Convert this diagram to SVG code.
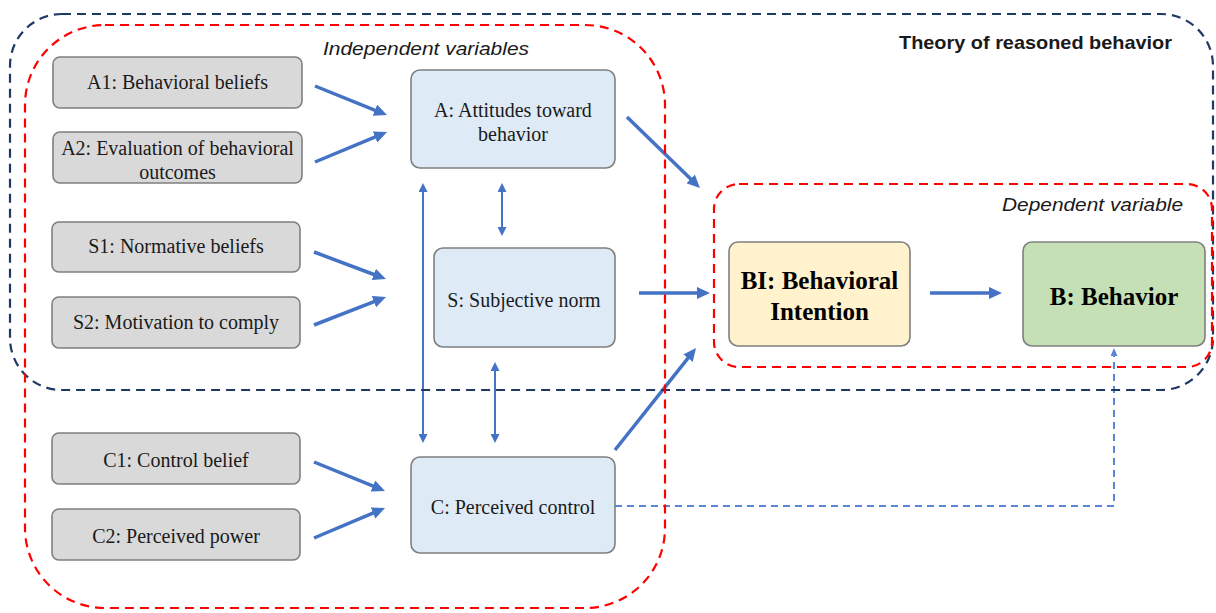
<svg xmlns="http://www.w3.org/2000/svg" width="1216" height="613" viewBox="0 0 1216 613">
  <style>
    .box rect { stroke: #7f7f7f; stroke-width: 1.6; }
    .belief rect { fill: #d9d9d9; }
    .factor rect { fill: #deebf7; }
    .label { font-family: "Liberation Serif", "Times New Roman", serif; font-size: 20px; fill: #1a1a1a; text-anchor: middle; }
    .big { font-family: "Liberation Serif", "Times New Roman", serif; font-size: 25px; font-weight: bold; fill: #000; text-anchor: middle; }
    .cap { font-family: "Liberation Sans", Arial, sans-serif; font-size: 19px; fill: #1a1a1a; }
    .thick { stroke: #4472c4; stroke-width: 3.5; fill: none; marker-end: url(#head); }
    .thin { stroke: #4472c4; stroke-width: 2; fill: none; marker-start: url(#headSmall); marker-end: url(#headSmall); }
    .dash { stroke: #5b86d6; stroke-width: 2; fill: none; stroke-dasharray: 7 5; marker-end: url(#headTiny); }
    .outer { fill: none; stroke: #1f3864; stroke-width: 2.2; stroke-dasharray: 9 6; }
    .group { fill: none; stroke: #ff0000; stroke-width: 2.2; stroke-dasharray: 9 6; }
  </style>
  <defs>
    <marker id="head" markerUnits="userSpaceOnUse" markerWidth="14" markerHeight="12" refX="3" refY="6" orient="auto">
      <path d="M0,0 L13,6 L0,12 z" fill="#4472c4"/>
    </marker>
    <marker id="headSmall" markerUnits="userSpaceOnUse" markerWidth="10" markerHeight="9" refX="3" refY="4.5" orient="auto-start-reverse">
      <path d="M0,0 L9,4.5 L0,9 z" fill="#4472c4"/>
    </marker>
    <marker id="headTiny" markerUnits="userSpaceOnUse" markerWidth="9" markerHeight="8" refX="2" refY="3.5" orient="auto">
      <path d="M0,0 L8,3.5 L0,7 z" fill="#5b86d6"/>
    </marker>
  </defs>

  <rect width="1216" height="613" fill="#ffffff"/>

  <!-- connectors -->
  <g id="connectors">
    <line class="thick" x1="315" y1="86" x2="377.7" y2="111.3"/>
    <line class="thick" x1="315" y1="162" x2="377.8" y2="135.8"/>
    <line class="thick" x1="314" y1="252" x2="376.6" y2="275.5"/>
    <line class="thick" x1="314" y1="325" x2="376.7" y2="300.6"/>
    <line class="thick" x1="314" y1="462" x2="375.7" y2="487.2"/>
    <line class="thick" x1="314" y1="538" x2="375.8" y2="511.9"/>
    <line class="thick" x1="627" y1="117" x2="692.8" y2="181"/>
    <line class="thick" x1="639" y1="293" x2="700" y2="293"/>
    <line class="thick" x1="615" y1="450" x2="689.8" y2="355.8"/>
    <line class="thick" x1="930" y1="293" x2="992" y2="293"/>
    <line class="thin" x1="423" y1="189" x2="423" y2="437"/>
    <line class="thin" x1="502" y1="189" x2="502" y2="230"/>
    <line class="thin" x1="495" y1="368" x2="495" y2="437"/>
    <path class="dash" d="M615,506 H1114 V354"/>
  </g>

  <!-- enclosing frames -->
  <g id="frames">
    <rect class="outer" x="10" y="14" width="1203" height="376" rx="52"/>
    <rect class="group" x="25" y="25" width="640" height="583" rx="80"/>
    <rect class="group" x="714" y="184" width="498" height="183" rx="25"/>
    <text class="cap" x="323" y="55" font-style="italic" textLength="206" lengthAdjust="spacingAndGlyphs">Independent variables</text>
    <text class="cap" x="899" y="49" font-size="20" font-weight="bold" textLength="273" lengthAdjust="spacingAndGlyphs">Theory of reasoned behavior</text>
    <text class="cap" x="1002" y="211" font-style="italic" textLength="181" lengthAdjust="spacingAndGlyphs">Dependent variable</text>
  </g>

  <!-- belief nodes -->
  <g id="A1" class="box belief">
    <rect x="53" y="57" width="249" height="51" rx="7"/>
    <text class="label" x="177.5" y="89">A1: Behavioral beliefs</text>
  </g>
  <g id="A2" class="box belief">
    <rect x="53" y="132" width="249" height="51" rx="7"/>
    <text class="label" x="177.5" y="155">A2: Evaluation of behavioral</text>
    <text class="label" x="177.5" y="179">outcomes</text>
  </g>
  <g id="S1" class="box belief">
    <rect x="52" y="222" width="248" height="50" rx="7"/>
    <text class="label" x="176" y="253">S1: Normative beliefs</text>
  </g>
  <g id="S2" class="box belief">
    <rect x="52" y="297" width="248" height="51" rx="7"/>
    <text class="label" x="176" y="329">S2: Motivation to comply</text>
  </g>
  <g id="C1" class="box belief">
    <rect x="52" y="433" width="248" height="51" rx="7"/>
    <text class="label" x="176" y="467">C1: Control belief</text>
  </g>
  <g id="C2" class="box belief">
    <rect x="52" y="509" width="248" height="51" rx="7"/>
    <text class="label" x="176" y="543">C2: Perceived power</text>
  </g>

  <!-- factor nodes -->
  <g id="A" class="box factor">
    <rect x="411" y="70" width="204" height="98" rx="9"/>
    <text class="label" x="513" y="117">A: Attitudes toward</text>
    <text class="label" x="513" y="141">behavior</text>
  </g>
  <g id="S" class="box factor">
    <rect x="434" y="248" width="181" height="99" rx="9"/>
    <text class="label" x="524" y="307">S: Subjective norm</text>
  </g>
  <g id="C" class="box factor">
    <rect x="411" y="457" width="204" height="96" rx="9"/>
    <text class="label" x="513" y="514">C: Perceived control</text>
  </g>

  <!-- outcome nodes -->
  <g id="BI" class="box">
    <rect x="729" y="242" width="181" height="104" rx="9" fill="#fff2cc"/>
    <text class="big" x="819.5" y="289">BI: Behavioral</text>
    <text class="big" x="819.5" y="320">Intention</text>
  </g>
  <g id="B" class="box">
    <rect x="1023" y="242" width="182" height="104" rx="9" fill="#c5e0b4"/>
    <text class="big" x="1114" y="305">B: Behavior</text>
  </g>
</svg>
